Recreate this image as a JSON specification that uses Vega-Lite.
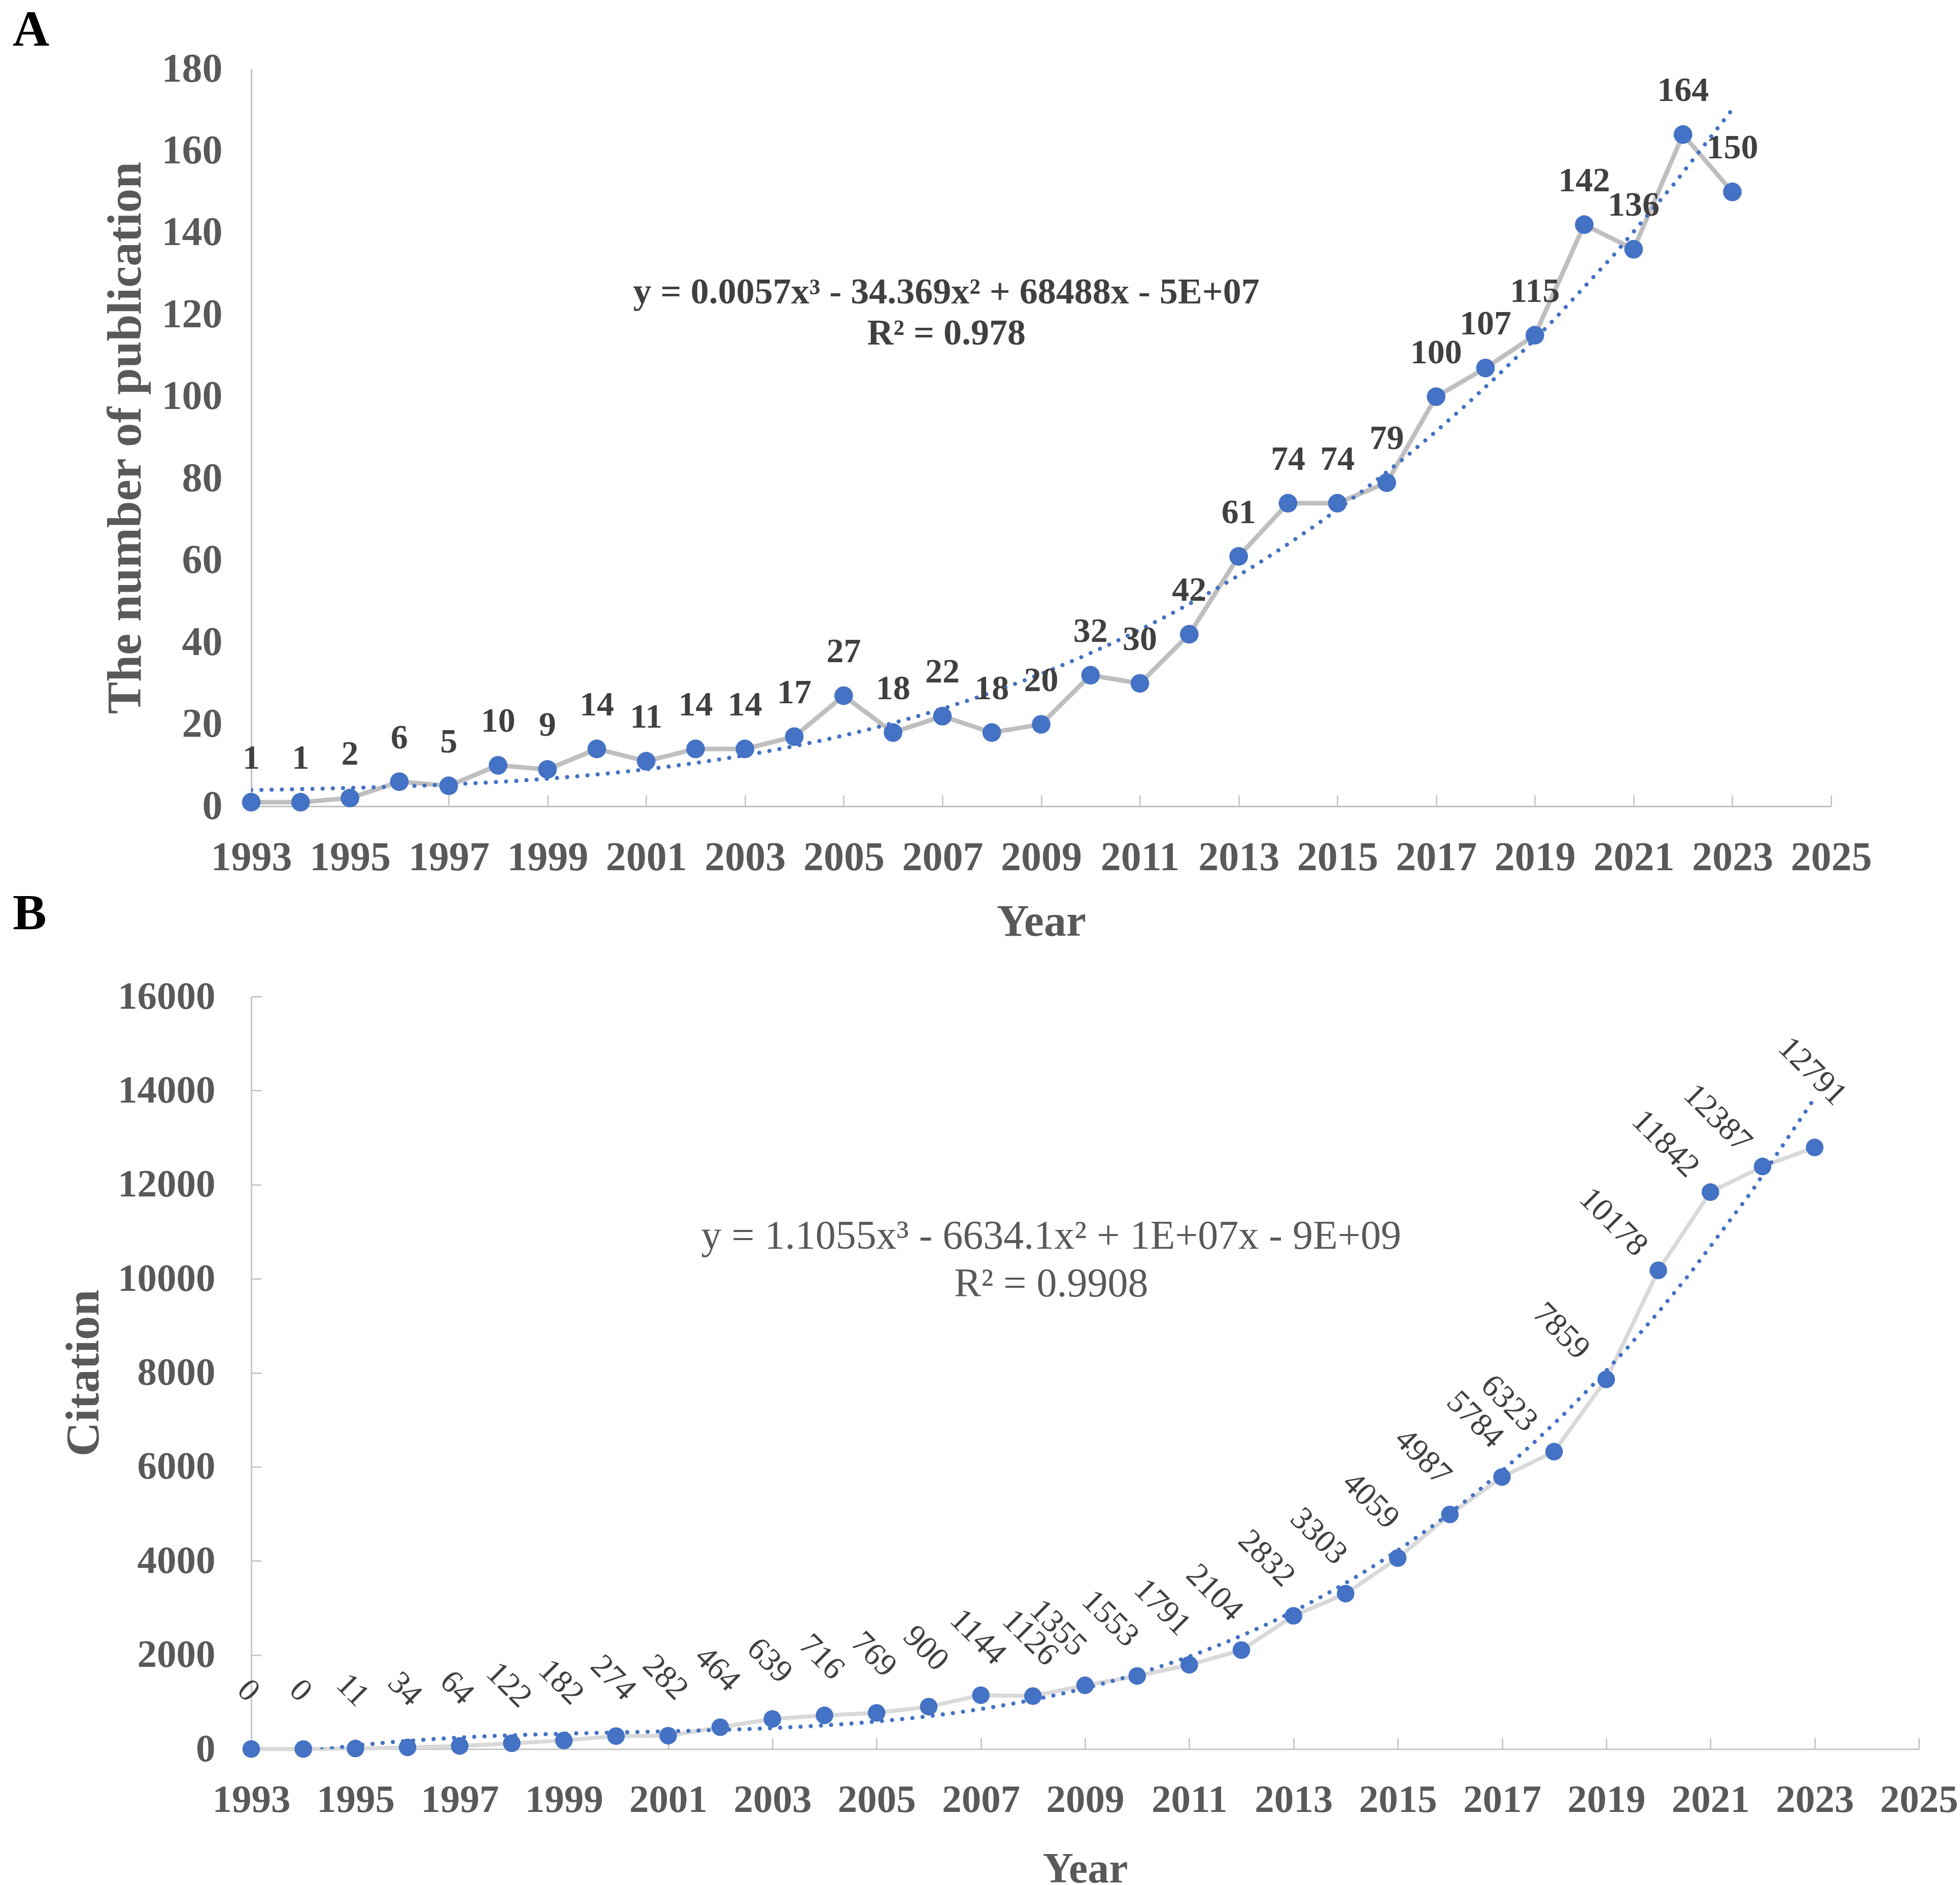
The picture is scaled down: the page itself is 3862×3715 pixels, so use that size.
{
  "$schema": "https://vega.github.io/schema/vega-lite/v6.json",
  "background": "white",
  "padding": {"left": 25, "top": 10, "right": 5, "bottom": 0},
  "bounds": "flush",
  "spacing": 375,
  "datasets": {
    "pubs": [
      {"Year": 1993, "Count": 1}, {"Year": 1994, "Count": 1}, {"Year": 1995, "Count": 2},
      {"Year": 1996, "Count": 6}, {"Year": 1997, "Count": 5}, {"Year": 1998, "Count": 10},
      {"Year": 1999, "Count": 9}, {"Year": 2000, "Count": 14}, {"Year": 2001, "Count": 11},
      {"Year": 2002, "Count": 14}, {"Year": 2003, "Count": 14}, {"Year": 2004, "Count": 17},
      {"Year": 2005, "Count": 27}, {"Year": 2006, "Count": 18}, {"Year": 2007, "Count": 22},
      {"Year": 2008, "Count": 18}, {"Year": 2009, "Count": 20}, {"Year": 2010, "Count": 32},
      {"Year": 2011, "Count": 30}, {"Year": 2012, "Count": 42}, {"Year": 2013, "Count": 61},
      {"Year": 2014, "Count": 74}, {"Year": 2015, "Count": 74}, {"Year": 2016, "Count": 79},
      {"Year": 2017, "Count": 100}, {"Year": 2018, "Count": 107}, {"Year": 2019, "Count": 115},
      {"Year": 2020, "Count": 142}, {"Year": 2021, "Count": 136}, {"Year": 2022, "Count": 164},
      {"Year": 2023, "Count": 150}
    ],
    "cites": [
      {"Year": 1993, "Citation": 0}, {"Year": 1994, "Citation": 0}, {"Year": 1995, "Citation": 11},
      {"Year": 1996, "Citation": 34}, {"Year": 1997, "Citation": 64}, {"Year": 1998, "Citation": 122},
      {"Year": 1999, "Citation": 182}, {"Year": 2000, "Citation": 274}, {"Year": 2001, "Citation": 282},
      {"Year": 2002, "Citation": 464}, {"Year": 2003, "Citation": 639}, {"Year": 2004, "Citation": 716},
      {"Year": 2005, "Citation": 769}, {"Year": 2006, "Citation": 900}, {"Year": 2007, "Citation": 1144},
      {"Year": 2008, "Citation": 1126}, {"Year": 2009, "Citation": 1355}, {"Year": 2010, "Citation": 1553},
      {"Year": 2011, "Citation": 1791}, {"Year": 2012, "Citation": 2104}, {"Year": 2013, "Citation": 2832},
      {"Year": 2014, "Citation": 3303}, {"Year": 2015, "Citation": 4059}, {"Year": 2016, "Citation": 4987},
      {"Year": 2017, "Citation": 5784}, {"Year": 2018, "Citation": 6323}, {"Year": 2019, "Citation": 7859},
      {"Year": 2020, "Citation": 10178}, {"Year": 2021, "Citation": 11842}, {"Year": 2022, "Citation": 12387},
      {"Year": 2023, "Citation": 12791}
    ]
  },
  "vconcat": [
    {
      "title": {"text": "A", "dx": -470, "offset": -15},
      "width": 3113,
      "height": 1453,
      "layer": [
        {
          "data": {"name": "pubs"},
          "mark": {"type": "line", "color": "#BFBFBF", "strokeWidth": 9},
          "encoding": {
            "x": {
              "field": "Year", "type": "quantitative",
              "scale": {"domain": [1993, 2025], "nice": false, "zero": false},
              "axis": {
                "title": "Year", "values": [1993, 1995, 1997, 1999, 2001, 2003, 2005, 2007, 2009, 2011, 2013, 2015, 2017, 2019, 2021, 2023, 2025],
                "format": "d", "labelFontSize": 80, "titleFontSize": 88,
                "tickSize": -22, "labelPadding": 84, "titlePadding": 43, "labelFlush": false
              }
            },
            "y": {
              "field": "Count", "type": "quantitative",
              "scale": {"domain": [0, 180], "nice": false},
              "axis": {
                "title": "The number of publication", "values": [0, 20, 40, 60, 80, 100, 120, 140, 160, 180],
                "format": "d", "labelFontSize": 80, "titleFontSize": 95, "ticks": false, "labelLimit": 0,
                "labelPadding": 57, "titlePadding": 22
              }
            }
          }
        },
        {
          "data": {"name": "pubs"},
          "transform": [{"regression": "Count", "on": "Year", "method": "poly", "order": 3, "extent": [1993, 2023]}],
          "mark": {"type": "line", "color": "#4472C4", "strokeWidth": 8, "strokeCap": "round", "strokeDash": [0.1, 20], "clip": true},
          "encoding": {
            "x": {"field": "Year", "type": "quantitative", "title": "Year"},
            "y": {"field": "Count", "type": "quantitative", "title": "The number of publication"}
          }
        },
        {
          "data": {"name": "pubs"},
          "mark": {"type": "point", "filled": true, "opacity": 1, "color": "#4472C4", "size": 1350},
          "encoding": {
            "x": {"field": "Year", "type": "quantitative", "title": "Year"},
            "y": {"field": "Count", "type": "quantitative", "title": "The number of publication"}
          }
        },
        {
          "data": {"name": "pubs"},
          "mark": {"type": "text", "font": "Liberation Serif", "fontWeight": "bold", "fontSize": 68, "color": "#404040", "baseline": "middle", "dy": -86},
          "encoding": {
            "x": {"field": "Year", "type": "quantitative", "title": "Year"},
            "y": {"field": "Count", "type": "quantitative", "title": "The number of publication"},
            "text": {"field": "Count", "type": "quantitative"}
          }
        },
        {
          "data": {"values": [{"line": "y = 0.0057x³ - 34.369x² + 68488x - 5E+07"}]},
          "mark": {"type": "text", "font": "Liberation Serif", "fontWeight": "bold", "fontSize": 72, "color": "#404040", "align": "center", "baseline": "middle"},
          "encoding": {
            "x": {"datum": 2007.08, "type": "quantitative"},
            "y": {"datum": 125.5, "type": "quantitative"},
            "text": {"field": "line", "type": "nominal"}
          }
        },
        {
          "data": {"values": [{"line": "R² = 0.978"}]},
          "mark": {"type": "text", "font": "Liberation Serif", "fontWeight": "bold", "fontSize": 72, "color": "#404040", "align": "center", "baseline": "middle"},
          "encoding": {
            "x": {"datum": 2007.08, "type": "quantitative"},
            "y": {"datum": 115.5, "type": "quantitative"},
            "text": {"field": "line", "type": "nominal"}
          }
        }
      ]
    },
    {
      "title": {"text": "B", "dx": -470, "offset": 73},
      "width": 3286,
      "height": 1483,
      "layer": [
        {
          "data": {"name": "cites"},
          "mark": {"type": "line", "color": "#D9D9D9", "strokeWidth": 8},
          "encoding": {
            "x": {
              "field": "Year", "type": "quantitative",
              "scale": {"domain": [1993, 2025], "nice": false, "zero": false},
              "axis": {
                "title": "Year", "values": [1993, 1995, 1997, 1999, 2001, 2003, 2005, 2007, 2009, 2011, 2013, 2015, 2017, 2019, 2021, 2023, 2025],
                "format": "d", "labelFontSize": 77, "titleFontSize": 84, "domainColor": "#C8C8C8",
                "tickSize": -22, "labelPadding": 84, "titlePadding": 58, "labelFlush": false
              }
            },
            "y": {
              "field": "Citation", "type": "quantitative",
              "scale": {"domain": [0, 16000], "nice": false},
              "axis": {
                "title": "Citation", "values": [0, 2000, 4000, 6000, 8000, 10000, 12000, 14000, 16000],
                "format": "d", "labelLimit": 0,
                "labelFontSize": 77, "titleFontSize": 94, "domainColor": "#C8C8C8",
                "tickSize": -20, "labelPadding": 91, "titlePadding": 82
              }
            }
          }
        },
        {
          "data": {"name": "cites"},
          "transform": [{"regression": "Citation", "on": "Year", "method": "poly", "order": 3, "extent": [1993, 2023]}],
          "mark": {"type": "line", "color": "#4472C4", "strokeWidth": 8, "strokeCap": "round", "strokeDash": [0.1, 20], "clip": true},
          "encoding": {
            "x": {"field": "Year", "type": "quantitative", "title": "Year"},
            "y": {"field": "Citation", "type": "quantitative", "title": "Citation"}
          }
        },
        {
          "data": {"name": "cites"},
          "mark": {"type": "point", "filled": true, "opacity": 1, "color": "#4472C4", "size": 1200},
          "encoding": {
            "x": {"field": "Year", "type": "quantitative", "title": "Year"},
            "y": {"field": "Citation", "type": "quantitative", "title": "Citation"}
          }
        },
        {
          "data": {"name": "cites"},
          "transform": [{"filter": "datum.Year <= 2008"}],
          "mark": {"type": "text", "font": "Liberation Serif", "fontSize": 64, "color": "#404040", "align": "center", "baseline": "middle", "angle": 45, "radius": 115, "theta": -0.05},
          "encoding": {
            "x": {"field": "Year", "type": "quantitative", "title": "Year"},
            "y": {"field": "Citation", "type": "quantitative", "title": "Citation"},
            "text": {"field": "Citation", "type": "quantitative"}
          }
        },
        {
          "data": {"name": "cites"},
          "transform": [{"filter": "datum.Year >= 2009 && datum.Year <= 2017"}],
          "mark": {"type": "text", "font": "Liberation Serif", "fontSize": 64, "color": "#404040", "align": "center", "baseline": "middle", "angle": 45, "radius": 125, "theta": -0.44},
          "encoding": {
            "x": {"field": "Year", "type": "quantitative", "title": "Year"},
            "y": {"field": "Citation", "type": "quantitative", "title": "Citation"},
            "text": {"field": "Citation", "type": "quantitative"}
          }
        },
        {
          "data": {"name": "cites"},
          "transform": [{"filter": "datum.Year >= 2018 && datum.Year <= 2022"}],
          "mark": {"type": "text", "font": "Liberation Serif", "fontSize": 64, "color": "#404040", "align": "center", "baseline": "middle", "angle": 45, "radius": 130, "theta": -0.75},
          "encoding": {
            "x": {"field": "Year", "type": "quantitative", "title": "Year"},
            "y": {"field": "Citation", "type": "quantitative", "title": "Citation"},
            "text": {"field": "Citation", "type": "quantitative"}
          }
        },
        {
          "data": {"name": "cites"},
          "transform": [{"filter": "datum.Year == 2023"}],
          "mark": {"type": "text", "font": "Liberation Serif", "fontSize": 64, "color": "#404040", "align": "center", "baseline": "middle", "angle": 45, "radius": 150, "theta": -0.03},
          "encoding": {
            "x": {"field": "Year", "type": "quantitative", "title": "Year"},
            "y": {"field": "Citation", "type": "quantitative", "title": "Citation"},
            "text": {"field": "Citation", "type": "quantitative"}
          }
        },
        {
          "data": {"values": [{"line": "y = 1.1055x³ - 6634.1x² + 1E+07x - 9E+09"}]},
          "mark": {"type": "text", "font": "Liberation Serif", "fontSize": 80, "color": "#595959", "align": "center", "baseline": "middle"},
          "encoding": {
            "x": {"datum": 2008.35, "type": "quantitative"},
            "y": {"datum": 10900, "type": "quantitative"},
            "text": {"field": "line", "type": "nominal"}
          }
        },
        {
          "data": {"values": [{"line": "R² = 0.9908"}]},
          "mark": {"type": "text", "font": "Liberation Serif", "fontSize": 80, "color": "#595959", "align": "center", "baseline": "middle"},
          "encoding": {
            "x": {"datum": 2008.35, "type": "quantitative"},
            "y": {"datum": 9880, "type": "quantitative"},
            "text": {"field": "line", "type": "nominal"}
          }
        }
      ]
    }
  ],
  "config": {
    "font": "Liberation Serif",
    "view": {"stroke": null},
    "title": {"font": "Liberation Serif", "fontSize": 100, "fontWeight": "bold", "color": "black", "anchor": "start", "frame": "group", "baseline": "alphabetic"},
    "axis": {
      "grid": false,
      "domainColor": "#BFBFBF",
      "domainWidth": 3,
      "tickColor": "#BFBFBF",
      "tickWidth": 2.5,
      "labelFont": "Liberation Serif",
      "labelFontWeight": "bold",
      "labelColor": "#595959",
      "titleFont": "Liberation Serif",
      "titleFontWeight": "bold",
      "titleColor": "#595959"
    }
  }
}
